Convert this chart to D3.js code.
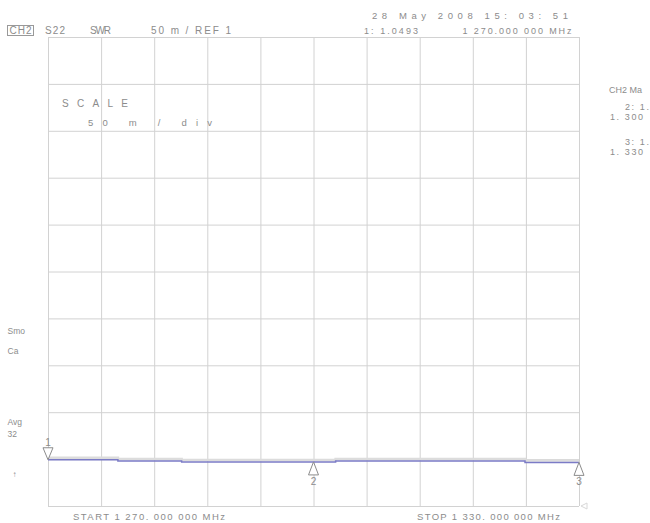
<!DOCTYPE html>
<html>
<head>
<meta charset="utf-8">
<script src="https://cdn.jsdelivr.net/npm/d3@7"></script>
<style>
  body { margin: 0; background: #fff; }
  svg text { font-family: "Liberation Sans", sans-serif; fill: #8c8c8c; }
</style>
</head>
<body>
<svg id="chart" width="650" height="523"></svg>
<script>
// Sweep data (MHz vs SWR)
const freqs = [1270, 1277.9, 1285.1, 1302.5, 1323.9, 1330]
const swr = [1.0493, 1.048, 1.047, 1.048, 1.0465, 1.0465]
const markerFreqs = [1270, 1300, 1330]
const markerNames = ['1', '2', '3']
const freqTicks = d3.range(1270, 1330.1, 6)
const swrTicks = d3.range(1, 1.5001, 0.05)

const plotL = 48, plotR = 579, plotT = 37, plotB = 506

const x = d3.scaleLinear().domain([1270, 1330]).range([plotL, plotR])
const y = d3.scaleLinear().domain([1, 1.5]).range([plotB, plotT])

const svg = d3.select('#chart')

// Grid
svg.append('g')
    .attr('transform', `translate(0,${plotB})`)
    .call(d3.axisBottom(x).tickValues(freqTicks).tickSize(-(plotB - plotT)).tickFormat(''))
    .call(g => g.select('.domain').remove())
    .call(g => g.selectAll('line').attr('stroke', '#d2d2d2'))

svg.append('g')
    .attr('transform', `translate(${plotL},0)`)
    .call(d3.axisLeft(y).tickValues(swrTicks).tickSize(-(plotR - plotL)).tickFormat(''))
    .call(g => g.select('.domain').remove())
    .call(g => g.selectAll('line').attr('stroke', '#d2d2d2'))

// Reference position marker
svg.append('path')
    .attr('d', `M${plotR + 2},${y(1)} l6,-3 v6 z`)
    .attr('fill', 'none').attr('stroke', '#d8d8d8')

// Trace
const pts = freqs.map((f, i) => [f, swr[i]])
const line = d3.line().x(d => x(d[0])).y(d => y(d[1])).curve(d3.curveStepAfter)

svg.append('path').datum(pts)
    .attr('d', line)
    .attr('transform', 'translate(0,-2)')
    .attr('fill', 'none').attr('stroke', '#dcdcdc').attr('stroke-width', 2.5)

svg.append('path').datum(pts)
    .attr('d', line)
    .attr('fill', 'none').attr('stroke', '#7b7bc6').attr('stroke-width', 1.5)

function valueAt(f) {
  let v = swr[0]
  freqs.forEach((ff, i) => { if (f >= ff) v = swr[i] })
  return v
}

// Markers
markerFreqs.forEach((f, i) => {
  const mx = x(f), my = y(valueAt(f))
  if (i === 0) {
    svg.append('path')
        .attr('d', `M${mx},${my} l-5,-12 h10 z`)
        .attr('fill', '#fff').attr('stroke', '#8c8c8c')
    svg.append('text').attr('x', mx).attr('y', my - 14)
        .attr('text-anchor', 'middle').attr('font-size', 10).text(markerNames[i])
  } else {
    svg.append('path')
        .attr('d', `M${mx},${my} l-5,13 h10 z`)
        .attr('fill', '#fff').attr('stroke', '#8c8c8c')
    svg.append('text').attr('x', mx).attr('y', my + 23)
        .attr('text-anchor', 'middle').attr('font-size', 10).text(markerNames[i])
  }
})

// Screen annotations
const txt = (tx, ty, s, size, len) => {
  const t = svg.append('text').attr('x', tx).attr('y', ty).attr('font-size', size).text(s)
  if (len) t.attr('textLength', len).attr('lengthAdjust', 'spacing')
  return t
}

svg.append('rect').attr('x', 7.5).attr('y', 25.5).attr('width', 26).attr('height', 10)
    .attr('fill', 'none').attr('stroke', '#999')
txt(9.5, 34, 'CH2', 10, 22)
txt(45, 34, 'S22', 10, 20)
txt(90, 34, 'SWR', 10, 21)
txt(151, 34, '50 m / REF 1', 10, 80)
txt(372, 18.5, '28 May 2008   15: 03: 51', 9.5, 196)
txt(364, 33.5, '1: 1.0493', 9, 54)
txt(462.5, 33.5, '1 270.000 000 MHz', 9, 109)

txt(62, 106.7, 'SCALE', 10, 66)
txt(88, 126, '50   m  / div', 9.5, 124)

txt(609, 93, 'CH2 Ma', 9)
txt(625, 110, '2: 1.', 9, 24)
txt(610, 120, '1. 300', 9, 33)
txt(625, 145, '3: 1.', 9, 24)
txt(610, 155, '1. 330', 9, 33)

txt(7.5, 334, 'Smo', 8.5)
txt(7.5, 353.5, 'Ca', 8.5)
txt(7.5, 425, 'Avg', 8.5)
txt(7.5, 437, '32', 8.5)
txt(12.5, 477, '↑', 8)

txt(73, 520, 'START 1 270. 000 000 MHz', 9.5, 152)
txt(417, 520, 'STOP 1 330. 000 000 MHz', 9.5, 143)
</script>
</body>
</html>
